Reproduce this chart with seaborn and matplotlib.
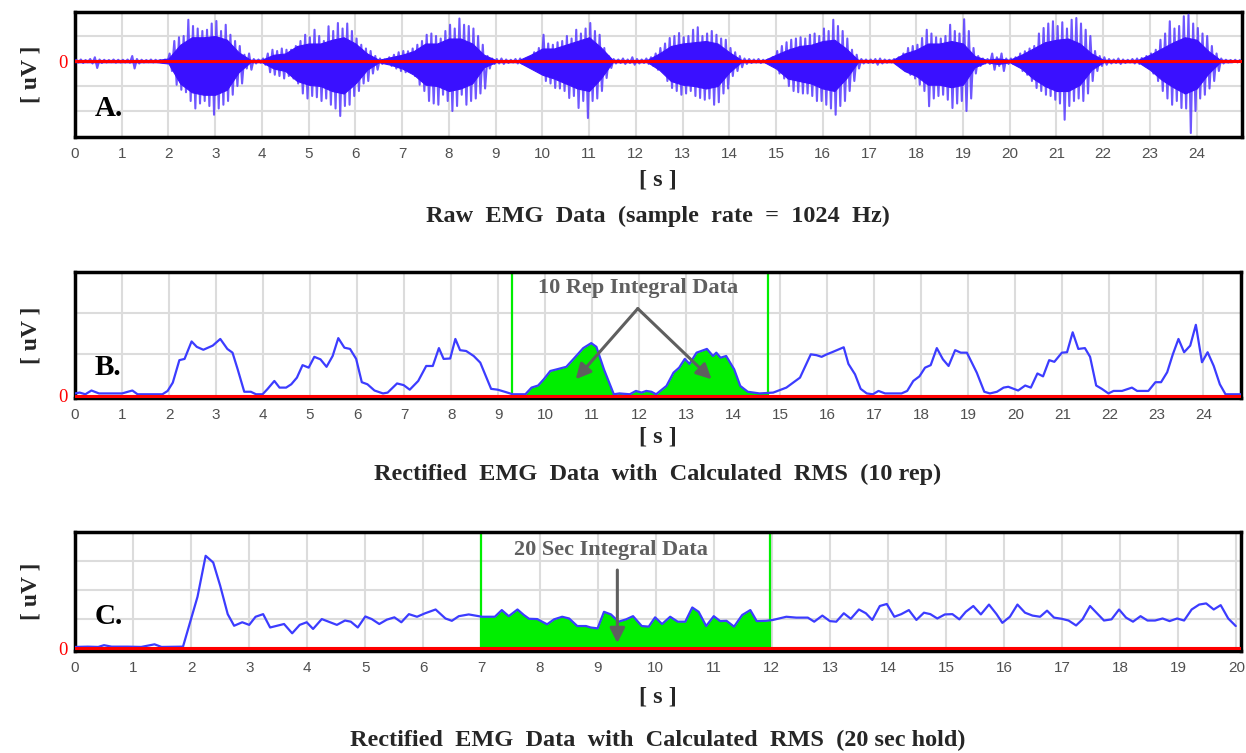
import numpy as np
import pandas as pd
import matplotlib
matplotlib.use("Agg")
import matplotlib.pyplot as plt
import seaborn as sns

# ---------------- data ----------------
# Panel A: raw EMG, per 0.1 s window: positive peak and negative peak (uV, chart units)
raw_window = 0.1
raw_top = [
    0.05, 0.06, 0.04, 0.08, 0.15, 0.06, 0.05, 0.04, 0.06, 0.05,
    0.05, 0.06, 0.2, 0.08, 0.05, 0.04, 0.06, 0.05, 0.04, 0.06,
    0.3, 0.8, 0.95, 1.0, 1.65, 1.4, 1.3, 1.2, 1.25, 1.5,
    1.6, 1.2, 1.45, 1.05, 0.8, 0.6, 0.25, 0.3, 0.08, 0.06,
    0.1, 0.3, 0.45, 0.4, 0.5, 0.45, 0.45, 0.6, 0.8, 1.05,
    0.95, 1.25, 1.0, 0.8, 1.39, 1.2, 1.52, 1.3, 1.5, 1.2,
    0.9, 0.65, 0.5, 0.4, 0.2, 0.1, 0.06, 0.15, 0.25, 0.35,
    0.4, 0.39, 0.5, 0.65, 0.8, 1.05, 1.1, 1.0, 0.9, 1.2,
    1.45, 1.3, 1.7, 1.45, 1.4, 1.3, 1.0, 0.65, 0.2, 0.1,
    0.08, 0.1, 0.06, 0.05, 0.08, 0.1, 0.06, 0.15, 0.35, 0.52,
    1.05, 0.7, 0.65, 0.75, 0.8, 1.0, 0.9, 1.25, 1.1, 1.3,
    1.52, 1.2, 1.05, 0.52, 0.19, 0.08, 0.06, 0.1, 0.06, 0.15,
    0.08, 0.06, 0.1, 0.15, 0.3, 0.52, 0.7, 0.92, 1.0, 1.12,
    0.95, 1.0, 1.25, 1.35, 1.0, 1.1, 1.2, 1.05, 0.9, 0.85,
    0.52, 0.35, 0.2, 0.1, 0.08, 0.06, 0.08, 0.05, 0.06, 0.15,
    0.4, 0.6, 0.75, 0.85, 0.9, 0.95, 0.9, 1.05, 1.1, 1.0,
    1.3, 1.2, 1.65, 1.4, 1.2, 0.9, 0.45, 0.25, 0.08, 0.06,
    0.06, 0.08, 0.1, 0.06, 0.05, 0.08, 0.15, 0.3, 0.52, 0.6,
    0.65, 0.92, 1.25, 1.1, 0.95, 0.9, 1.0, 1.45, 1.2, 1.1,
    1.67, 1.2, 0.52, 0.2, 0.1, 0.08, 0.3, 0.15, 0.3, 0.1,
    0.1, 0.15, 0.3, 0.39, 0.5, 0.6, 1.1, 1.32, 1.5, 1.59,
    1.4, 1.55, 1.3, 1.65, 1.72, 1.5, 1.25, 1.0, 0.4, 0.2,
    0.15, 0.08, 0.06, 0.1, 0.06, 0.05, 0.08, 0.1, 0.12, 0.2,
    0.3, 0.45, 0.85, 1.1, 1.59, 1.3, 1.4, 1.79, 1.85, 1.5,
    1.32, 1.1, 1.0, 0.6, 0.3, 0.1, 0.05, 0.04, 0.05, 0.04,
]
raw_bottom = [
    -0.06, -0.08, -0.05, -0.1, -0.28, -0.08, -0.06, -0.05, -0.07, -0.06,
    -0.06, -0.07, -0.3, -0.1, -0.06, -0.05, -0.06, -0.05, -0.06, -0.07,
    -0.4, -0.95, -1.15, -1.25, -1.6, -1.9, -1.7, -1.6, -1.8, -2.15,
    -1.9, -1.75, -1.6, -1.35, -1.0, -0.9, -0.3, -0.35, -0.1, -0.07,
    -0.15, -0.45, -0.55, -0.6, -0.7, -0.6, -0.7, -0.9, -1.3, -1.5,
    -1.4, -1.45, -1.6, -1.5, -1.75, -1.9, -2.2, -1.8, -1.75, -1.4,
    -1.2, -0.9, -0.8, -0.5, -0.35, -0.12, -0.08, -0.2, -0.3, -0.4,
    -0.45, -0.4, -0.6, -0.95, -1.2, -1.6, -1.7, -1.75, -1.35, -1.6,
    -2.0, -1.8, -1.35, -1.75, -1.6, -1.5, -1.3, -1.1, -0.3, -0.12,
    -0.1, -0.12, -0.08, -0.06, -0.1, -0.12, -0.1, -0.2, -0.35, -0.45,
    -0.8, -0.9, -1.08, -1.1, -1.2, -1.48, -1.4, -1.88, -1.6, -2.28,
    -1.6, -1.5, -1.2, -0.68, -0.28, -0.1, -0.08, -0.12, -0.08, -0.15,
    -0.1, -0.08, -0.12, -0.2, -0.35, -0.41, -0.8, -1.08, -1.2, -1.35,
    -1.3, -1.2, -1.4, -1.48, -1.55, -1.5, -1.75, -1.65, -1.3, -1.1,
    -0.6, -0.4, -0.25, -0.12, -0.08, -0.06, -0.08, -0.06, -0.07, -0.2,
    -0.5, -0.7, -1.0, -1.2, -1.25, -1.3, -1.3, -1.4, -1.6, -1.6,
    -1.75, -1.9, -2.15, -1.8, -1.6, -1.2, -0.8, -0.3, -0.1, -0.08,
    -0.08, -0.15, -0.1, -0.07, -0.06, -0.1, -0.2, -0.4, -0.55, -0.7,
    -0.95, -1.2, -1.81, -1.5, -1.4, -1.35, -1.55, -1.88, -1.7, -1.6,
    -2.0, -1.5, -0.5, -0.2, -0.1, -0.12, -0.35, -0.2, -0.4, -0.12,
    -0.12, -0.2, -0.4, -0.55, -0.8, -1.08, -1.2, -1.35, -1.4, -1.55,
    -1.7, -2.35, -1.8, -1.6, -1.5, -1.6, -1.3, -0.8, -0.4, -0.2,
    -0.15, -0.1, -0.08, -0.12, -0.08, -0.06, -0.1, -0.12, -0.15, -0.25,
    -0.5, -0.8, -1.2, -1.5, -1.75, -1.6, -1.88, -1.9, -2.88, -2.0,
    -1.5, -1.35, -1.1, -0.8, -0.4, -0.1, -0.06, -0.05, -0.06, -0.05,
]
# Panel A: dense core of the signal, read every 0.25 s
core_step = 0.25
core_top = [
    0.04, 0.04, 0.04, 0.04, 0.04, 0.04, 0.04, 0.04, 0.1, 0.65,
    0.95, 0.95, 1.0, 0.85, 0.35, 0.05, 0.05, 0.25, 0.3, 0.6,
    0.7, 0.7, 0.85, 0.95, 0.7, 0.3, 0.05, 0.15, 0.25, 0.4,
    0.7, 0.7, 0.9, 0.9, 0.7, 0.25, 0.04, 0.04, 0.04, 0.25,
    0.5, 0.5, 0.65, 0.8, 0.95, 0.55, 0.05, 0.04, 0.04, 0.05,
    0.3, 0.6, 0.7, 0.75, 0.8, 0.7, 0.35, 0.05, 0.04, 0.04,
    0.25, 0.45, 0.6, 0.65, 0.8, 0.85, 0.5, 0.05, 0.04, 0.04,
    0.05, 0.3, 0.45, 0.7, 0.7, 0.8, 0.7, 0.2, 0.05, 0.1,
    0.05, 0.25, 0.5, 0.75, 0.85, 0.9, 0.7, 0.3, 0.05, 0.04,
    0.04, 0.05, 0.25, 0.5, 0.75, 0.95, 0.85, 0.4, 0.05, 0.04,
]
core_bottom = [
    -0.05, -0.05, -0.05, -0.05, -0.05, -0.05, -0.05, -0.05, -0.1, -0.9,
    -1.25, -1.35, -1.35, -1.15, -0.45, -0.05, -0.05, -0.3, -0.4, -0.8,
    -0.95, -1.0, -1.2, -1.3, -0.9, -0.35, -0.05, -0.15, -0.3, -0.55,
    -0.95, -1.0, -1.2, -1.1, -0.9, -0.25, -0.05, -0.05, -0.05, -0.3,
    -0.55, -0.7, -0.9, -1.1, -1.2, -0.7, -0.05, -0.05, -0.05, -0.05,
    -0.35, -0.8, -0.95, -1.0, -1.1, -1.0, -0.45, -0.05, -0.05, -0.05,
    -0.3, -0.7, -0.8, -0.9, -1.1, -1.2, -0.7, -0.05, -0.05, -0.05,
    -0.05, -0.4, -0.6, -0.95, -0.95, -1.05, -0.95, -0.25, -0.05, -0.12,
    -0.05, -0.3, -0.7, -1.0, -1.2, -1.2, -0.95, -0.35, -0.05, -0.05,
    -0.05, -0.05, -0.35, -0.75, -1.05, -1.3, -1.1, -0.5, -0.05, -0.05,
]

# Panel B: RMS (10 rep)
rms10_t = [0.0, 0.1, 0.22, 0.35, 0.51, 1.0, 1.22, 1.33, 1.86, 1.97,
           2.08, 2.22, 2.33, 2.48, 2.59, 2.73, 2.93, 3.09, 3.24, 3.35,
           3.46, 3.6, 3.74, 3.85, 3.99, 4.09, 4.24, 4.35, 4.49, 4.6,
           4.72, 4.84, 4.97, 5.09, 5.22, 5.35, 5.48, 5.6, 5.73, 5.85,
           5.98, 6.1, 6.22, 6.37, 6.55, 6.65, 6.85, 6.99, 7.12, 7.3,
           7.47, 7.61, 7.74, 7.84, 7.98, 8.09, 8.19, 8.32, 8.48, 8.62,
           8.75, 8.85, 8.99, 9.14, 9.31, 9.58, 9.71, 9.85, 9.97, 10.11,
           10.25, 10.45, 10.66, 10.81, 10.98, 11.09, 11.25, 11.46, 11.58, 11.8,
           11.93, 12.05, 12.15, 12.26, 12.36, 12.58, 12.73, 12.85, 12.97, 13.07,
           13.22, 13.44, 13.57, 13.64, 13.73, 13.85, 14.02, 14.15, 14.31, 14.56,
           14.85, 15.13, 15.42, 15.65, 15.77, 15.88, 15.99, 16.1, 16.35, 16.45,
           16.59, 16.71, 16.84, 16.97, 17.09, 17.23, 17.58, 17.7, 17.83, 17.96,
           18.08, 18.2, 18.33, 18.46, 18.58, 18.72, 18.84, 18.97, 19.18, 19.34,
           19.46, 19.61, 19.75, 19.85, 20.06, 20.21, 20.33, 20.47, 20.59, 20.72,
           20.83, 20.99, 21.1, 21.22, 21.34, 21.48, 21.59, 21.72, 21.84, 21.98,
           22.09, 22.27, 22.48, 22.59, 22.83, 22.98, 23.1, 23.23, 23.35, 23.47,
           23.59, 23.72, 23.84, 23.97, 24.09, 24.22, 24.35, 24.47, 24.79]
rms10_v = [0.06, 0.08, 0.04, 0.13, 0.06, 0.06, 0.13, 0.04, 0.04, 0.12,
           0.32, 0.86, 0.89, 1.31, 1.18, 1.11, 1.21, 1.37, 1.13, 1.04,
           0.64, 0.1, 0.1, 0.04, 0.04, 0.16, 0.36, 0.2, 0.2, 0.28,
           0.44, 0.74, 0.68, 0.94, 0.88, 0.7, 0.96, 1.39, 1.16, 1.13,
           0.89, 0.33, 0.28, 0.13, 0.06, 0.08, 0.3, 0.26, 0.15, 0.36,
           0.72, 0.72, 1.15, 0.89, 0.9, 1.37, 1.1, 1.08, 0.96, 0.8,
           0.44, 0.17, 0.15, 0.1, 0.04, 0.04, 0.2, 0.25, 0.4, 0.6,
           0.64, 0.7, 0.96, 1.15, 1.27, 1.18, 0.64, 0.04, 0.06, 0.04,
           0.12, 0.08, 0.12, 0.1, 0.04, 0.24, 0.56, 0.68, 0.89, 0.77,
           1.04, 1.13, 0.96, 1.04, 0.92, 0.96, 0.64, 0.24, 0.1, 0.06,
           0.08, 0.2, 0.44, 1.0, 0.98, 0.94, 1.0, 1.05, 1.17, 0.77,
           0.52, 0.17, 0.06, 0.04, 0.12, 0.06, 0.06, 0.12, 0.36, 0.47,
           0.68, 0.74, 1.15, 0.88, 0.72, 1.1, 1.04, 1.04, 0.56, 0.1,
           0.06, 0.1, 0.2, 0.22, 0.13, 0.25, 0.2, 0.54, 0.47, 0.86,
           0.82, 1.04, 1.05, 1.53, 1.13, 1.15, 0.94, 0.25, 0.17, 0.06,
           0.12, 0.12, 0.2, 0.12, 0.12, 0.33, 0.33, 0.57, 1.0, 1.37,
           1.05, 1.21, 1.71, 0.81, 1.05, 0.72, 0.28, 0.04, 0.04]

# Panel C: RMS (20 sec hold)
rms20_t = [0.0, 0.22, 0.4, 0.5, 0.63, 0.91, 1.14, 1.37, 1.49, 1.86,
           2.11, 2.25, 2.38, 2.5, 2.63, 2.74, 2.88, 3.0, 3.11, 3.24,
           3.36, 3.6, 3.74, 3.87, 3.99, 4.1, 4.25, 4.51, 4.65, 4.75,
           4.87, 5.0, 5.11, 5.24, 5.37, 5.5, 5.62, 5.75, 5.89, 6.03,
           6.21, 6.38, 6.49, 6.61, 6.78, 6.95, 7.01, 7.23, 7.35, 7.47,
           7.62, 7.73, 7.82, 7.96, 8.13, 8.25, 8.39, 8.51, 8.65, 8.8,
           8.88, 9.0, 9.11, 9.23, 9.36, 9.49, 9.61, 9.76, 9.88, 9.99,
           10.11, 10.25, 10.38, 10.51, 10.63, 10.74, 10.87, 11.0, 11.11, 11.22,
           11.35, 11.49, 11.63, 11.74, 11.9, 12.02, 12.25, 12.42, 12.62, 12.73,
           12.87, 13.0, 13.11, 13.24, 13.36, 13.5, 13.62, 13.73, 13.86, 13.98,
           14.11, 14.23, 14.36, 14.49, 14.62, 14.73, 14.85, 14.98, 15.11, 15.23,
           15.34, 15.47, 15.6, 15.74, 15.87, 15.97, 16.1, 16.23, 16.36, 16.49,
           16.62, 16.74, 16.86, 16.99, 17.11, 17.24, 17.35, 17.48, 17.6, 17.72,
           17.85, 17.98, 18.1, 18.22, 18.35, 18.47, 18.6, 18.73, 18.85, 18.98,
           19.1, 19.23, 19.36, 19.48, 19.61, 19.73, 19.86, 19.99]
rms20_v = [0.04, 0.05, 0.04, 0.1, 0.05, 0.05, 0.04, 0.13, 0.04, 0.05,
           1.77, 3.18, 2.95, 2.15, 1.17, 0.77, 0.89, 0.8, 1.08, 1.17,
           0.71, 0.83, 0.51, 0.8, 0.89, 0.66, 1.0, 0.8, 0.95, 0.91,
           0.71, 1.09, 1.0, 0.83, 0.98, 1.06, 0.89, 1.17, 1.08, 1.2,
           1.33, 1.02, 0.94, 1.1, 1.16, 1.1, 1.08, 1.08, 1.31, 1.1,
           1.33, 1.14, 1.01, 1.0, 0.82, 0.99, 1.08, 1.02, 0.76, 0.76,
           0.71, 0.68, 1.25, 1.16, 0.91, 0.99, 1.1, 0.76, 0.74, 1.06,
           0.83, 1.08, 0.91, 0.91, 1.4, 1.25, 0.76, 1.1, 0.93, 0.94,
           0.74, 1.14, 1.31, 0.93, 0.94, 0.97, 1.08, 1.05, 1.05, 0.91,
           1.12, 0.93, 0.91, 1.2, 1.01, 1.33, 1.2, 0.97, 1.45, 1.52,
           1.08, 1.17, 1.31, 0.97, 1.22, 1.17, 1.02, 1.16, 1.17, 0.99,
           1.25, 1.45, 1.16, 1.5, 1.17, 0.87, 1.08, 1.5, 1.22, 1.12,
           1.08, 1.29, 1.05, 1.01, 0.95, 0.78, 0.99, 1.45, 1.2, 0.95,
           0.99, 1.33, 1.05, 0.91, 1.1, 0.95, 0.95, 1.02, 0.93, 1.02,
           0.95, 1.33, 1.5, 1.54, 1.33, 1.48, 1.02, 0.76]

rep_window = [9.3, 14.74]
hold_window = [7.0, 11.97]

ticks_ab = list(range(0, 25))
ticks_c = list(range(0, 21))

titles = ["Raw  EMG  Data  (sample  rate  =  1024  Hz)",
          "Rectified  EMG  Data  with  Calculated  RMS  (10 rep)",
          "Rectified  EMG  Data  with  Calculated  RMS  (20 sec hold)"]
panel_letters = ["A.", "B.", "C."]

assert len(raw_top) == len(raw_bottom)
assert len(core_top) == len(core_bottom)
assert len(rms10_t) == len(rms10_v)
assert len(rms20_t) == len(rms20_v)

# ---------------- style ----------------
sns.set_style("white")
plt.rcParams["font.family"] = ["Liberation Serif", "DejaVu Serif"]

SERIF = ["Liberation Serif", "DejaVu Serif"]
SANS = ["Liberation Sans", "DejaVu Sans"]
RAW_BLUE = "#3a10ff"
RMS_BLUE = "#3c3cff"
GREEN = "#00ee00"
GRID = "#dcdcdc"
ANN = "#5f5f5f"

W, H = 1246, 753
fig = plt.figure(figsize=(W / 100, H / 100), dpi=100)


def ax_rect(l, t, r, b):
    return [l / W, 1 - b / H, (r - l) / W, (b - t) / H]


axA = fig.add_axes(ax_rect(75, 12, 1242, 137))
axB = fig.add_axes(ax_rect(75, 272, 1241, 398))
axC = fig.add_axes(ax_rect(75, 532, 1241, 651))


def style_axis(ax, xticks, xlim, ylim, ygrid):
    ax.set_xlim(*xlim)
    ax.set_ylim(*ylim)
    ax.set_xticks(xticks)
    ax.set_xticklabels([str(v) for v in xticks], fontfamily=SANS, fontsize=11,
                       color="#505050")
    ax.set_yticks(ygrid)
    ax.set_yticklabels(["0" if v == 0 else "" for v in ygrid], fontfamily=SERIF,
                       fontsize=13.5, color="red")
    ax.tick_params(axis="both", length=0)
    ax.tick_params(axis="x", pad=7)
    ax.tick_params(axis="y", pad=5)
    ax.grid(True, color=GRID, lw=1.5, zorder=0)
    ax.set_axisbelow(True)
    for s in ax.spines.values():
        s.set_visible(True)
        s.set_color("black")
        s.set_linewidth(2.5)
    ax.set_xlabel("")
    ax.set_ylabel("")
    ax.axhline(0, color="red", lw=2.2, zorder=4)


# ---- Panel A: raw EMG (dense core band + spike peaks) ----
core_t = np.arange(len(core_top)) * core_step
axA.fill_between(core_t, core_bottom, core_top, color=RAW_BLUE, lw=0.8,
                 edgecolor=RAW_BLUE, zorder=3.2)
n = len(raw_top)
win_start = np.arange(n) * raw_window
raw_t = np.ravel(np.column_stack([win_start + raw_window * 0.25,
                                  win_start + raw_window * 0.75]))
raw_v = np.ravel(np.column_stack([raw_top, raw_bottom]))
dfA = pd.DataFrame({"t": raw_t, "uV": raw_v})
sns.lineplot(data=dfA, x="t", y="uV", ax=axA, color="#5538ff", lw=1.5,
             estimator=None, sort=False, zorder=3, alpha=0.85)
style_axis(axA, ticks_ab, (0, 24.97), (-3.04, 1.96), [-2, -1, 0, 1])

# ---- Panel B ----
dfB = pd.DataFrame({"t": rms10_t, "uV": rms10_v})
tb = np.asarray(rms10_t)
vb = np.asarray(rms10_v)
mask = (tb > rep_window[0]) & (tb < rep_window[1])
fill_t = np.concatenate([[rep_window[0]], tb[mask], [rep_window[1]]])
fill_v = np.concatenate([[np.interp(rep_window[0], tb, vb)], vb[mask],
                         [np.interp(rep_window[1], tb, vb)]])
axB.fill_between(fill_t, 0, fill_v, color=GREEN, lw=0, zorder=2)
sns.lineplot(data=dfB, x="t", y="uV", ax=axB, color=RMS_BLUE, lw=1.6,
             estimator=None, sort=False, zorder=3)
for xv in rep_window:
    axB.axvline(xv, color=GREEN, lw=1.6, zorder=2.5)
style_axis(axB, ticks_ab, (0, 24.8), (-0.05, 2.98), [0, 1, 2])

# ---- Panel C ----
dfC = pd.DataFrame({"t": rms20_t, "uV": rms20_v})
tc = np.asarray(rms20_t)
vc = np.asarray(rms20_v)
mask = (tc > hold_window[0]) & (tc < hold_window[1])
fill_t = np.concatenate([[hold_window[0]], tc[mask], [hold_window[1]]])
fill_v = np.concatenate([[np.interp(hold_window[0], tc, vc)], vc[mask],
                         [np.interp(hold_window[1], tc, vc)]])
axC.fill_between(fill_t, 0, fill_v, color=GREEN, lw=0, zorder=2)
sns.lineplot(data=dfC, x="t", y="uV", ax=axC, color=RMS_BLUE, lw=1.6,
             estimator=None, sort=False, zorder=3)
for xv in hold_window:
    axC.axvline(xv, color=GREEN, lw=1.6, zorder=2.5)
style_axis(axC, ticks_c, (0, 20.08), (-0.1, 4.0), [0, 1, 2, 3])

# ---- annotations ----
axB.text(11.97, 2.6, "10 Rep Integral Data", ha="center", va="center",
         fontfamily=SERIF, fontweight="bold", fontsize=16, color=ANN, zorder=6)
for hx in (10.65, 13.54):
    axB.annotate("", xy=(hx, 0.4), xytext=(11.97, 2.1),
                 arrowprops=dict(arrowstyle="-|>,head_length=0.9,head_width=0.45",
                                 color=ANN, lw=2.2, shrinkA=0, shrinkB=0), zorder=6)
axC.text(9.23, 3.38, "20 Sec Integral Data", ha="center", va="center",
         fontfamily=SERIF, fontweight="bold", fontsize=16, color=ANN, zorder=6)
axC.annotate("", xy=(9.34, 0.17), xytext=(9.34, 2.69),
             arrowprops=dict(arrowstyle="-|>,head_length=0.9,head_width=0.45",
                             color=ANN, lw=2.2, shrinkA=0, shrinkB=0), zorder=6)

# panel letters
for ax, lab, yf in ((axA, panel_letters[0], 0.232), (axB, panel_letters[1], 0.246),
                    (axC, panel_letters[2], 0.294)):
    ax.text(0.017, yf, lab, transform=ax.transAxes, ha="left", va="center",
            fontfamily=SERIF, fontweight="bold", fontsize=21, color="black", zorder=6)

# y labels
for top, bot in ((12, 137), (272, 398), (532, 651)):
    fig.text(31 / W, 1 - (top + bot) / 2 / H, "[ uV ]", rotation=90, ha="center",
             va="center", fontfamily=SERIF, fontweight="bold", fontsize=17)

# x labels and titles
for ys, yt, title in ((180, 216, titles[0]), (437, 474, titles[1]), (697, 740, titles[2])):
    fig.text(658 / W, 1 - ys / H, "[ s ]", ha="center", va="center",
             fontfamily=SERIF, fontweight="bold", fontsize=17.5)
    fig.text(658 / W, 1 - yt / H, title, ha="center", va="center",
             fontfamily=SERIF, fontweight="bold", fontsize=17.5)

fig.savefig("out.png", dpi=100, facecolor="white")
